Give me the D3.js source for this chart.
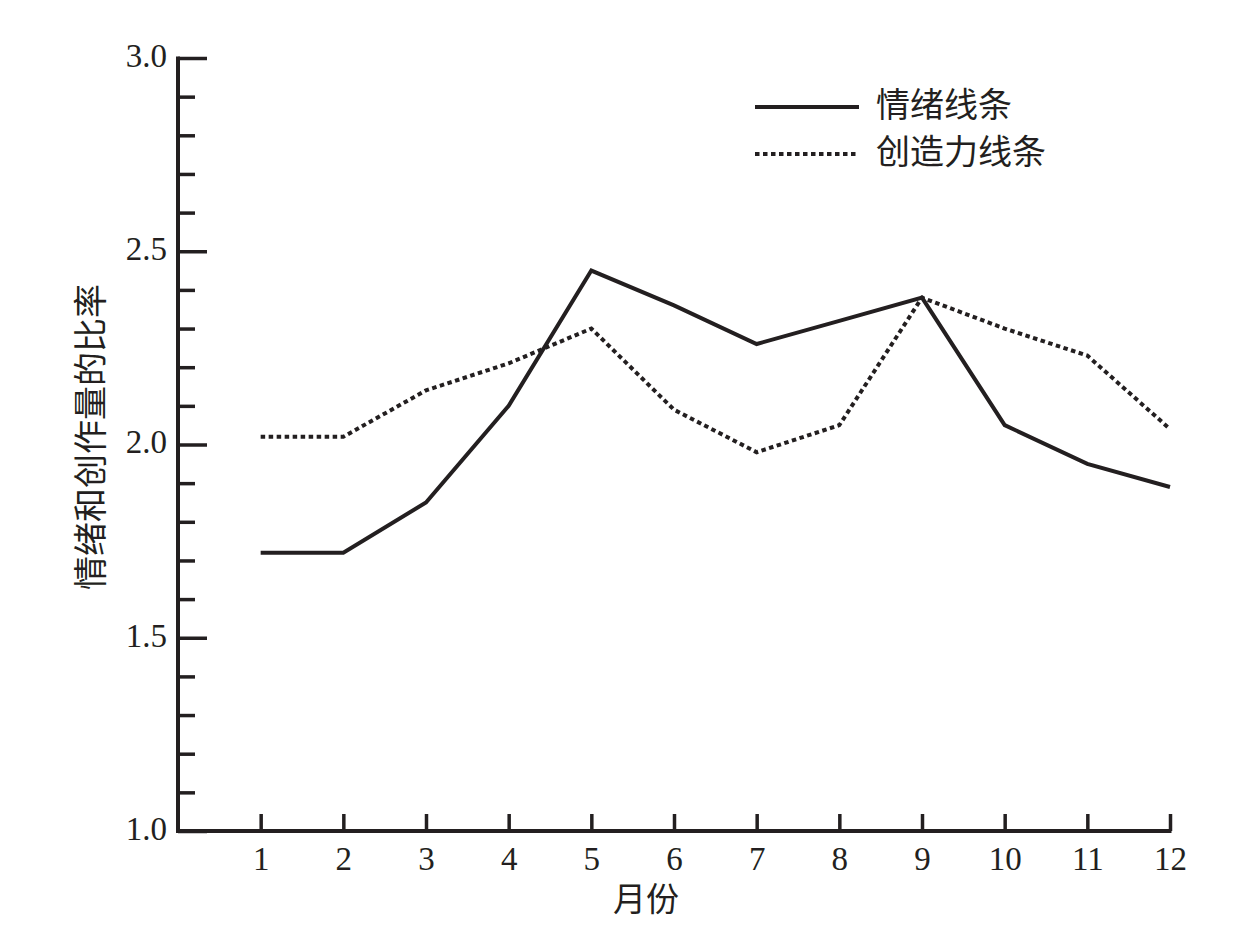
<!DOCTYPE html>
<html>
<head>
<meta charset="utf-8">
<script src="https://cdn.jsdelivr.net/npm/d3@7"></script>
<style>
  body { margin: 0; background: #fff; }
  .tick text { font-family: "Liberation Serif", "DejaVu Serif", serif; }
</style>
</head>
<body>
<div id="chart"></div>
<script>
// months and the two series
var months = [1,2,3,4,5,6,7,8,9,10,11,12];
var emotion = [1.72,1.72,1.85,2.10,2.45,2.36,2.26,2.32,2.38,2.05,1.95,1.89];
var creativity = [2.02,2.02,2.14,2.21,2.30,2.09,1.98,2.05,2.38,2.30,2.23,2.04];
var yMajor = [1.0,1.5,2.0,2.5,3.0];
var yMinor = [1.1,1.2,1.3,1.4,1.6,1.7,1.8,1.9,2.1,2.2,2.3,2.4,2.6,2.7,2.8,2.9];
var seriesNames = ["情绪线条","创造力线条"];

var WIDTH = 1246, HEIGHT = 929;
var ink = "#231f20";

var svg = d3.select("#chart").append("svg")
    .attr("width", WIDTH)
    .attr("height", HEIGHT);

var x = d3.scaleLinear().domain([0, 12]).range([178, 1170]);
var y = d3.scaleLinear().domain([1, 3]).range([831, 58]);

// y axis: major ticks with labels, minor ticks without
var yAxis = svg.append("g").attr("transform", "translate(" + x(0) + ",0)");
yAxis.call(d3.axisRight(y).tickValues(yMajor).tickSize(29).tickFormat(d3.format(".1f")));
yAxis.select(".domain").remove();
yAxis.selectAll(".tick line").attr("stroke", ink).attr("stroke-width", 3.5);
yAxis.selectAll(".tick text")
    .attr("x", -11).attr("dy", "0.25em")
    .attr("text-anchor", "end")
    .style("font-size", "33px").attr("fill", ink);

var yMinorG = svg.append("g").attr("transform", "translate(" + x(0) + ",0)");
yMinorG.call(d3.axisRight(y).tickValues(yMinor).tickSize(17).tickFormat(""));
yMinorG.select(".domain").remove();
yMinorG.selectAll(".tick line").attr("stroke", ink).attr("stroke-width", 3.5);

svg.append("line")
    .attr("x1", x(0)).attr("x2", x(0))
    .attr("y1", y(3) - 1.5).attr("y2", y(1) + 1.5)
    .attr("stroke", ink).attr("stroke-width", 4);

// x axis: ticks point up into the plot
var xAxis = svg.append("g").attr("transform", "translate(0," + y(1) + ")");
xAxis.call(d3.axisBottom(x).tickValues(months).tickSizeInner(-17).tickSizeOuter(0).tickFormat(d3.format("d")));
xAxis.select(".domain").remove();
xAxis.selectAll(".tick line").attr("stroke", ink).attr("stroke-width", 3.5);
xAxis.selectAll(".tick text")
    .attr("y", 16).attr("dy", "0.71em")
    .style("font-size", "33px").attr("fill", ink);

svg.append("line")
    .attr("x1", x(0) - 2).attr("x2", x(12) + 1.5)
    .attr("y1", y(1)).attr("y2", y(1))
    .attr("stroke", ink).attr("stroke-width", 4);

// axis titles
svg.append("text")
    .attr("x", 646).attr("y", 902)
    .attr("text-anchor", "middle").attr("dominant-baseline", "middle")
    .style("font-family", "'Noto Sans CJK SC'").style("font-size", "33px")
    .attr("fill", ink).text("月份");

svg.append("text")
    .attr("transform", "translate(94,437) rotate(-90)")
    .attr("text-anchor", "middle").attr("dominant-baseline", "middle")
    .style("font-family", "'Noto Sans CJK SC'").style("font-size", "34px")
    .attr("fill", ink).text("情绪和创作量的比率");

// lines
var line = d3.line()
    .x(function(d, i) { return x(months[i]); })
    .y(function(d) { return y(d); });

svg.append("path").datum(emotion)
    .attr("d", line).attr("fill", "none")
    .attr("stroke", ink).attr("stroke-width", 4).attr("stroke-linejoin", "miter");

svg.append("path").datum(creativity)
    .attr("d", line).attr("fill", "none")
    .attr("stroke", ink).attr("stroke-width", 4).attr("stroke-dasharray", "4.5,3.5");

// legend
var legend = svg.append("g");
var dashes = [null, "4.5,3.5"];
seriesNames.forEach(function(name, i) {
  var ly = 107 + i * 47;
  legend.append("line")
      .attr("x1", 755).attr("x2", 859).attr("y1", ly).attr("y2", ly)
      .attr("stroke", ink).attr("stroke-width", 4)
      .attr("stroke-dasharray", dashes[i]);
  legend.append("text")
      .attr("x", 876).attr("y", ly + 1)
      .attr("dominant-baseline", "middle")
      .style("font-family", "'Noto Sans CJK SC'").style("font-size", "34px")
      .attr("fill", ink).text(name);
});
</script>
</body>
</html>
